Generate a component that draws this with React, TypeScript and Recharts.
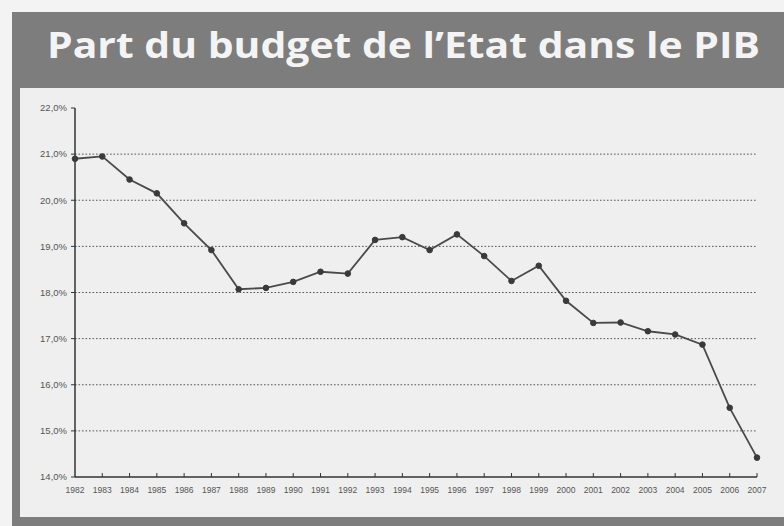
import React from 'react';
import { LineChart, Line, XAxis, YAxis, ReferenceLine } from 'recharts';

const years = ['1982', '1983', '1984', '1985', '1986', '1987', '1988', '1989', '1990', '1991', '1992', '1993', '1994', '1995', '1996', '1997', '1998', '1999', '2000', '2001', '2002', '2003', '2004', '2005', '2006', '2007'];
const shares = [20.9, 20.95, 20.45, 20.15, 19.5, 18.92, 18.07, 18.1, 18.23, 18.45, 18.41, 19.14, 19.2, 18.92, 19.26, 18.79, 18.25, 18.58, 17.82, 17.34, 17.35, 17.16, 17.09, 16.87, 15.5, 14.42];
const yTicks = [14, 15, 16, 17, 18, 19, 20, 21, 22];
const gridValues = [15, 16, 17, 18, 19, 20, 21];
const title = 'Part du budget de l\u2019Etat dans le PIB';

const data = years.map((y, i) => ({ year: y, share: shares[i] }));

const XTick = (props: any) => {
  const { x, y, payload } = props;
  const first = payload.value === years[0];
  return (
    <g>
      {!first && <line x1={x} x2={x} y1={y - 10} y2={y - 14} stroke="#333" strokeWidth={1} />}
      <text x={x} y={y} dy="0.71em" textAnchor="middle" fontSize={8.5} fill="#555" fontFamily="Liberation Sans, Arial, sans-serif">
        {payload.value}
      </text>
    </g>
  );
};

export default function App() {
  return (
    <div style={{ position: 'absolute', left: 0, top: 0, width: 784, height: 526, background: '#f3f3f3', overflow: 'hidden' }}>
      <div style={{ position: 'absolute', left: 12, top: 12, width: 772, height: 514, background: '#7d7d7d' }} />
      <div style={{ position: 'absolute', left: 20, top: 88, width: 764, height: 429, background: '#efefef' }} />
      <svg style={{ position: 'absolute', left: 0, top: 0 }} width={784} height={90}>
        <text x={47} y={58} fontSize={36} fontWeight={700} fill="#f4f4f4" fontFamily="'Open Sans', 'Noto Sans', sans-serif" textLength={713} lengthAdjust="spacingAndGlyphs">
          {title}
        </text>
      </svg>
      <div style={{ position: 'absolute', left: 0, top: 0 }}>
        <LineChart width={784} height={526} data={data} margin={{ top: 108, right: 27, bottom: 19, left: 20 }}>
          {gridValues.map((v) => (
            <ReferenceLine key={v} y={v} stroke="#555" strokeDasharray="1.6 1.9" strokeWidth={1} />
          ))}
          <XAxis
            dataKey="year"
            height={30}
            interval={0}
            tickSize={0}
            tickMargin={10}
            tick={<XTick />}
            axisLine={{ stroke: '#333', strokeWidth: 1.5 }}
          />
          <YAxis
            width={55}
            domain={[14, 22]}
            ticks={yTicks}
            tickFormatter={(v: number) => v.toFixed(1).replace('.', ',') + '%'}
            tickSize={4}
            tickMargin={4}
            tick={{ fontSize: 9.5, fill: '#555', fontFamily: 'Liberation Sans, Arial, sans-serif' }}
            tickLine={{ stroke: '#333' }}
            axisLine={{ stroke: '#333', strokeWidth: 1.5 }}
          />
          <Line
            type="linear"
            dataKey="share"
            stroke="#4a4a4a"
            strokeWidth={1.8}
            dot={{ r: 2.8, fill: '#3a3a3a', stroke: '#3a3a3a', strokeWidth: 1 }}
            isAnimationActive={false}
          />
        </LineChart>
      </div>
    </div>
  );
}
